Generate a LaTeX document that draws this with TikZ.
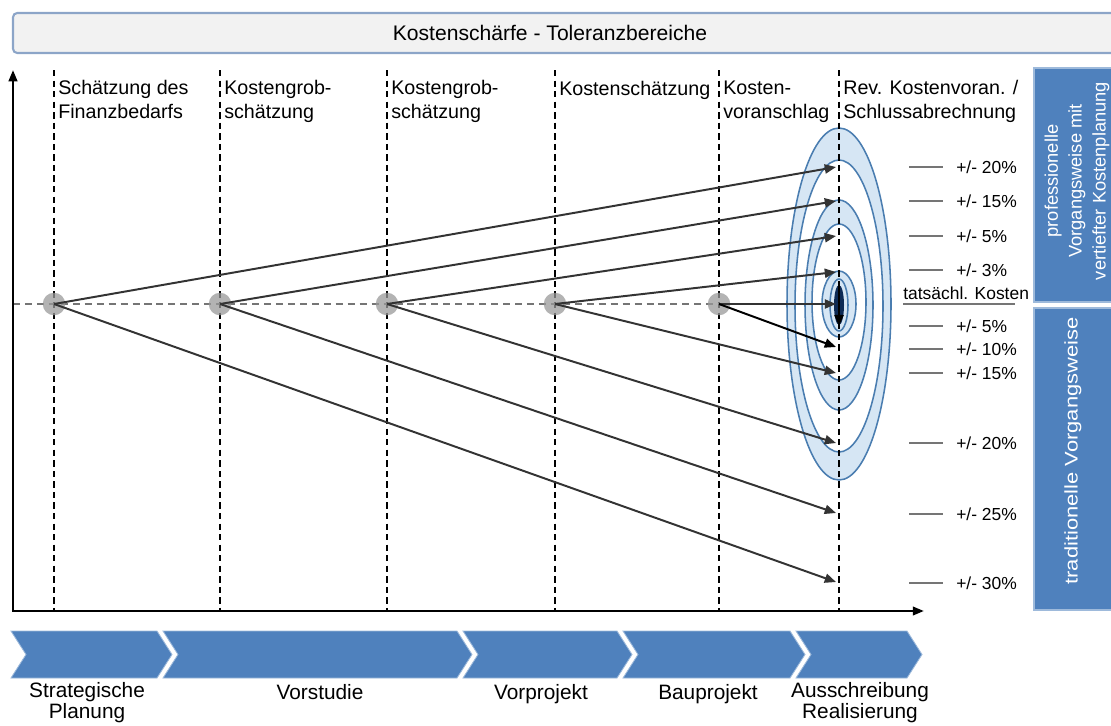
\documentclass[tikz,border=0pt]{standalone}
\usepackage{fontspec}
\setmainfont{Liberation Sans}
\usepackage{graphicx}
\usetikzlibrary{arrows.meta,positioning}

\definecolor{chevblue}{HTML}{4F81BD}
\definecolor{ringblue}{HTML}{4A7DB0}
\definecolor{ringfill}{HTML}{D6E6F4}
\definecolor{titlefill}{HTML}{F2F2F2}
\definecolor{titleline}{HTML}{8CA5C8}
\definecolor{arrowgray}{HTML}{333333}
\definecolor{dashgray}{HTML}{757575}
\definecolor{coreblue}{HTML}{0D2A55}

\newcommand{\tolpct}[1]{+/- #1\%}

\begin{document}
\begin{tikzpicture}[x=0.025cm, y=-0.025cm, >={Triangle[length=8pt,width=6.5pt]},
  lbl/.style={font=\fontsize{14}{16.4}\selectfont, align=left, anchor=base west, inner sep=0pt},
  phase/.style={font=\fontsize{14.8}{13.5}\selectfont, align=center, anchor=base, inner sep=0pt},
  tol/.style={font=\fontsize{12.4}{14}\selectfont, anchor=base west, inner sep=0pt},
  tolline/.style={draw=dashgray, line width=1.8pt},
  vdash/.style={draw=black, line width=0.9pt, dash pattern=on 4.5pt off 3pt},
  hdash/.style={draw=dashgray, line width=1.9pt, dash pattern=on 5pt off 3.5pt},
  est/.style={circle, fill=gray!80, opacity=.75, minimum size=16pt, inner sep=0pt},
  estarrow/.style={->, draw=arrowgray, line width=1.4pt},
  ring/.style={draw=ringblue, line width=1.1pt},
  chev/.style={fill=chevblue, draw=chevblue!55!white, line width=0.6pt},
  side/.style={fill=chevblue, draw=chevblue!55!white, line width=0.8pt},
  sidetxt/.style={text=white, font=\fontsize{13}{17}\selectfont, align=center, rotate=90, inner sep=0pt}]
\useasboundingbox (0,0) rectangle (1111,725);
\clip (0,0) rectangle (1111,725);

% title bar
\path[draw=titleline, fill=titlefill, line width=1.5pt, rounded corners=3pt] (13,13) rectangle (1130,53);
\node[font=\fontsize{15}{18}\selectfont] (title) at (550,33) {Kostenschärfe - Toleranzbereiche};

% tolerance rings
\path[ring, fill=ringfill] (839,304) ellipse [x radius=52, y radius=176];
\path[ring, fill=white] (839,306) ellipse [x radius=44, y radius=146];
\path[ring, fill=ringfill] (839,305) ellipse [x radius=34, y radius=105];
\path[ring, fill=white] (839,302) ellipse [x radius=27, y radius=78];
\path[ring, fill=ringfill] (839,304) ellipse [x radius=17, y radius=33];
\path[ring, fill=ringfill] (839,305) ellipse [x radius=9, y radius=26];
\path[fill=coreblue] (839,305) ellipse [x radius=5, y radius=20];

% phases along the time axis
\foreach \x/\y/\t [count=\i] in {54/118/{Schätzung des\\Finanzbedarfs}, 220/118/{Kostengrob-\\schätzung},
    387/118/{Kostengrob-\\schätzung}, 555/95/{Kostenschätzung}, 719/118/{Kosten-\\voranschlag},
    839/118/{Rev. Kostenvoran. /\\Schlussabrechnung}} {
  \draw[vdash] (\x,70) -- (\x,611);
  \node[lbl] (ph\i) at (\x+4,\y) {\t};
}
\draw[hdash] (13,304) -- (839,304);

% axes
\draw[line width=1.8pt, {Triangle[length=8pt,width=6pt]}-{Triangle[length=8pt,width=6pt]}] (13,70) |- (924,611);

% estimate points
\foreach \x [count=\i] in {54,220,387,555,719}
  \node[est] (s\i) at (\x,304) {};

% arrow targets
\coordinate (up20) at (836,167);
\coordinate (up15) at (836,201);
\coordinate (up5) at (836,236);
\coordinate (up3) at (836,272);
\coordinate (real) at (836,304);
\coordinate (dn10) at (836,347);
\coordinate (dn15) at (836,373);
\coordinate (dn20) at (836,443);
\coordinate (dn25) at (836,513);
\coordinate (dn30) at (836,582);

\draw[estarrow] (s1.center) -- (up20);
\draw[estarrow] (s1.center) -- (dn30);
\draw[estarrow] (s2.center) -- (up15);
\draw[estarrow] (s2.center) -- (dn25);
\draw[estarrow] (s3.center) -- (up5);
\draw[estarrow] (s3.center) -- (dn20);
\draw[estarrow] (s4.center) -- (up3);
\draw[estarrow] (s4.center) -- (dn15);
\draw[estarrow] (s5.center) -- (real);
\draw[estarrow, draw=black] (s5.center) -- (dn10);
\draw[->, line width=1.8pt] (839,282) -- (839,326);

% tolerance scale
\foreach \y/\p in {167/20, 201/15, 236/5, 270/3, 326/5, 349/10, 373/15, 443/20, 514/25, 583/30} {
  \draw[tolline] (909,\y) -- (943,\y);
  \node[tol] (tol\y) at (956,\y+6) {\tolpct{\p}};
}
\draw[tolline] (903,304) -- (1015,304);
\node[tol] (cost) at (903,299) {tatsächl. Kosten};

% procedure boxes
\path[side] (1034,68) rectangle (1130,302);
\path[side] (1034,308) rectangle (1130,610);
\node[sidetxt] (prof) at (1077,181) {professionelle\\Vorgangsweise mit\\vertiefter Kostenplanung};
\node[sidetxt] (trad) at (1073,451) {\scalebox{1.2}[1]{traditionelle Vorgangsweise}};

% project phases
\foreach \a/\b in {11/157, 163/457, 463/617, 623/790, 796/907}
  \path[chev] (\a,631) -- (\b,631) -- (\b+15,654.5) -- (\b,678) -- (\a,678) -- (\a+15,654.5) -- cycle;
\node[phase] (strat) at (87,718) {Strategische\\Planung};
\node[phase] (vorst) at (320,699) {Vorstudie};
\node[phase] (vorpr) at (541,699) {Vorprojekt};
\node[phase] (baupr) at (708,699) {Bauprojekt};
\node[phase] (ausschr) at (860,718) {Ausschreibung\\Realisierung};
\end{tikzpicture}
\end{document}
